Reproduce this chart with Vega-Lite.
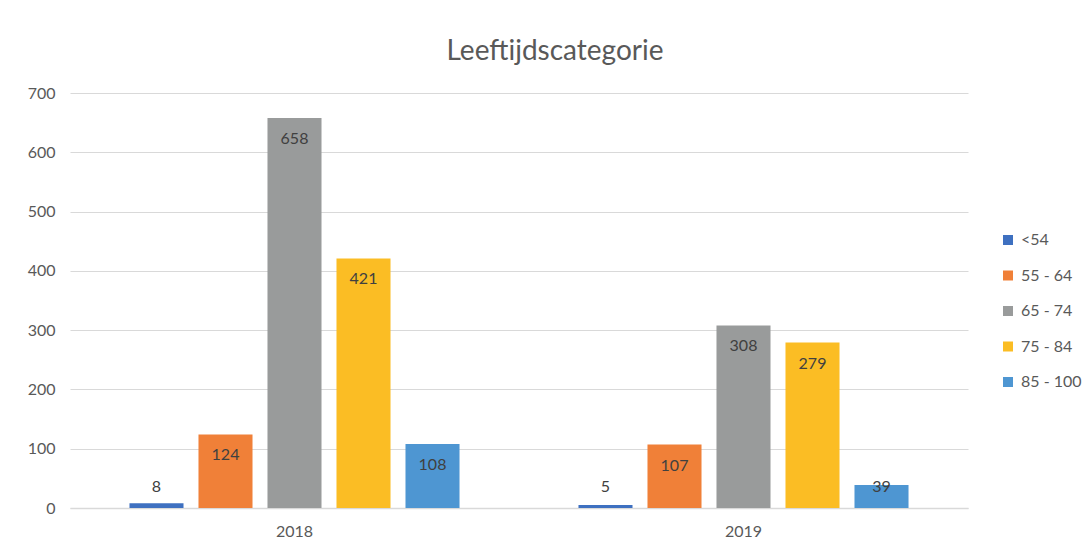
{
  "$schema": "https://vega.github.io/schema/vega-lite/v6.json",
  "width": 898,
  "height": 415,
  "autosize": {"type": "none"},
  "padding": {"left": 70, "top": 93, "right": 118, "bottom": 40},
  "background": "white",
  "title": {
    "text": "Leeftijdscategorie",
    "fontSize": 28,
    "font": "Lato",
    "fontWeight": "normal",
    "color": "#595959",
    "anchor": "middle",
    "dx": 36,
    "offset": 19
  },
  "config": {
    "view": {"stroke": null},
    "font": "Lato"
  },
  "data": {
    "values": [
      {"year": "2018", "cat": "<54", "value": 8},
      {"year": "2018", "cat": "55 - 64", "value": 124},
      {"year": "2018", "cat": "65 - 74", "value": 658},
      {"year": "2018", "cat": "75 - 84", "value": 421},
      {"year": "2018", "cat": "85 - 100", "value": 108},
      {"year": "2019", "cat": "<54", "value": 5},
      {"year": "2019", "cat": "55 - 64", "value": 107},
      {"year": "2019", "cat": "65 - 74", "value": 308},
      {"year": "2019", "cat": "75 - 84", "value": 279},
      {"year": "2019", "cat": "85 - 100", "value": 39}
    ]
  },
  "encoding": {
    "x": {
      "field": "year",
      "type": "nominal",
      "scale": {"paddingInner": 0, "paddingOuter": 0},
      "axis": {
        "title": null,
        "labelAngle": 0,
        "labelFontSize": 16,
        "labelColor": "#595959",
        "labelPadding": 15,
        "ticks": false,
        "domainColor": "#d9d9d9",
        "domainWidth": 1.5
      }
    },
    "xOffset": {
      "field": "cat",
      "type": "nominal",
      "sort": ["<54", "55 - 64", "65 - 74", "75 - 84", "85 - 100"],
      "scale": {"paddingInner": 0.217, "paddingOuter": 0.862}
    }
  },
  "layer": [
    {
      "mark": {"type": "bar"},
      "encoding": {
        "y": {
          "field": "value",
          "type": "quantitative",
          "scale": {"domain": [0, 700], "nice": false},
          "axis": {
            "title": null,
            "values": [0, 100, 200, 300, 400, 500, 600, 700],
            "domain": false,
            "ticks": false,
            "gridColor": "#d9d9d9",
            "gridWidth": 1.2,
            "labelFontSize": 16,
            "labelColor": "#595959",
            "labelPadding": 15
          }
        },
        "color": {
          "field": "cat",
          "type": "nominal",
          "sort": ["<54", "55 - 64", "65 - 74", "75 - 84", "85 - 100"],
          "scale": {
            "domain": ["<54", "55 - 64", "65 - 74", "75 - 84", "85 - 100"],
            "range": ["#3e70c0", "#f08038", "#999b9b", "#fbbd24", "#4e96d2"]
          },
          "legend": {
            "title": null,
            "orient": "none",
            "legendX": 930,
            "legendY": 139,
            "symbolType": "square",
            "symbolSize": 100,
            "symbolStrokeWidth": 0,
            "labelFontSize": 16,
            "labelColor": "#595959",
            "rowPadding": 19.5,
            "labelOffset": 5
          }
        }
      }
    },
    {
      "transform": [{"filter": "datum.value >= 50"}],
      "mark": {"type": "text", "fontSize": 16, "color": "#404040", "dy": 21, "baseline": "middle"},
      "encoding": {
        "y": {"field": "value", "type": "quantitative"},
        "text": {"field": "value", "type": "quantitative"}
      }
    },
    {
      "transform": [{"filter": "datum.value < 50 && datum.value >= 20"}],
      "mark": {"type": "text", "fontSize": 16, "color": "#404040", "dy": 2, "baseline": "middle"},
      "encoding": {
        "y": {"field": "value", "type": "quantitative"},
        "text": {"field": "value", "type": "quantitative"}
      }
    },
    {
      "transform": [{"filter": "datum.value < 20"}],
      "mark": {"type": "text", "fontSize": 16, "color": "#404040", "dy": -21, "baseline": "middle"},
      "encoding": {
        "y": {"datum": 0, "type": "quantitative"},
        "text": {"field": "value", "type": "quantitative"}
      }
    }
  ]
}
